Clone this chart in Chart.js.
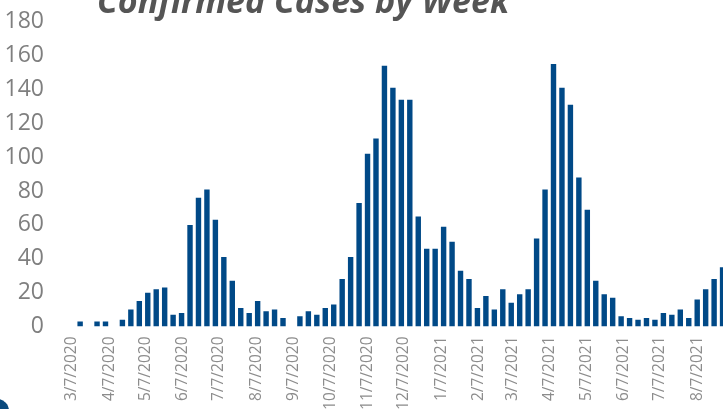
<!DOCTYPE html>
<html>
<head>
<meta charset="utf-8">
<script src="https://cdn.jsdelivr.net/npm/chart.js@4.4.1/dist/chart.umd.min.js"></script>
<style>
  html, body { margin: 0; padding: 0; background: #fff; overflow: hidden; }
  #wrap { position: relative; width: 723px; height: 409px; overflow: hidden; }
  #titulo {
    position: absolute; left: 97px; top: -17.5px; margin: 0;
    font-family: "Open Sans", sans-serif; font-weight: 700; font-style: italic;
    font-size: 34px; line-height: 1; color: #555555; white-space: nowrap;
  }
  #chartBox { position: absolute; left: 0; top: 0; }
  #punto {
    position: absolute; left: -15px; top: 399px; width: 24px; height: 24px;
    border-radius: 50%; background: #0b4a7d;
  }
</style>
</head>
<body>
<div id="wrap">
  <div id="chartBox"><canvas id="myChart" width="760" height="409"></canvas></div>
  <h1 id="titulo">Confirmed Cases by Week</h1>
  <div id="punto"></div>
</div>
<script>
// fechas que salen en el eje x (una por mes)
const tickLabels = ["3/7/2020", "4/7/2020", "5/7/2020", "6/7/2020", "7/7/2020", "8/7/2020",
  "9/7/2020", "10/7/2020", "11/7/2020", "12/7/2020", "1/7/2021", "2/7/2021", "3/7/2021",
  "4/7/2021", "5/7/2021", "6/7/2021", "7/7/2021", "8/7/2021"];

// primera semana con datos, despues una barra por semana
const primeraSemana = "3/14/2020";

// casos confirmados por semana
const confirmados = [3, 0, 3, 3, 0, 4, 10, 15, 20, 22, 23, 7, 8, 60, 76, 81, 63, 41, 27, 11,
  8, 15, 9, 10, 5, 0, 6, 9, 7, 11, 13, 28, 41, 73, 102, 111, 154, 141, 134, 134,
  65, 46, 46, 59, 50, 33, 28, 11, 18, 10, 22, 14, 19, 22, 52, 81, 155, 141, 131, 88,
  69, 27, 19, 17, 6, 5, 4, 5, 4, 8, 7, 10, 5, 16, 22, 28, 35];

const yTicks = [0, 20, 40, 60, 80, 100, 120, 140, 160, 180];

// dias desde la primera fecha del eje
const diaDe = (txt) => {
  const p = txt.split("/");
  const base = Date.UTC(2020, 2, 7);
  return Math.round((Date.UTC(+p[2], +p[0] - 1, +p[1]) - base) / 86400000);
};

const tickDias = tickLabels.map(diaDe);
const dia0 = diaDe(primeraSemana);
const puntos = confirmados.map((v, i) => ({ x: dia0 + 7 * i, y: v }));

var ctx = document.getElementById("myChart").getContext("2d");
var myChart = new Chart(ctx, {
  type: "bar",
  data: {
    datasets: [
      {
        label: "Confirmed",
        data: puntos,
        backgroundColor: "#004987",
        borderWidth: 0,
        barPercentage: 0.8,
        categoryPercentage: 0.8,
      },
    ],
  },
  options: {
    responsive: false,
    animation: false,
    layout: { padding: { top: 20.5, left: 0, right: 0, bottom: 0 } },
    plugins: {
      legend: { display: false },
      title: { display: false },
      tooltip: { enabled: false },
    },
    scales: {
      x: {
        type: "linear",
        offset: false,
        min: -16.3,
        max: 570,
        grid: { display: false, drawTicks: false },
        border: { display: false },
        afterBuildTicks: (scale) => {
          scale.ticks = tickDias.map((d) => ({ value: d }));
        },
        afterFit: (scale) => {
          scale.height = 82.5;
        },
        ticks: {
          autoSkip: false,
          maxRotation: 90,
          minRotation: 90,
          padding: 10,
          color: "#8c8c8c",
          font: { family: "Open Sans", size: 15.5 },
          callback: (value) => {
            const i = tickDias.indexOf(value);
            return i >= 0 ? tickLabels[i] : "";
          },
        },
      },
      y: {
        min: 0,
        max: 180,
        grid: { display: false, drawTicks: false },
        border: { display: false },
        afterBuildTicks: (scale) => {
          scale.ticks = yTicks.map((v) => ({ value: v }));
        },
        afterFit: (scale) => {
          scale.width = 52;
        },
        ticks: {
          padding: 8,
          labelOffset: 0,
          color: "#7f7f7f",
          font: { family: "Open Sans", size: 23 },
        },
      },
    },
  },
});
</script>
</body>
</html>
